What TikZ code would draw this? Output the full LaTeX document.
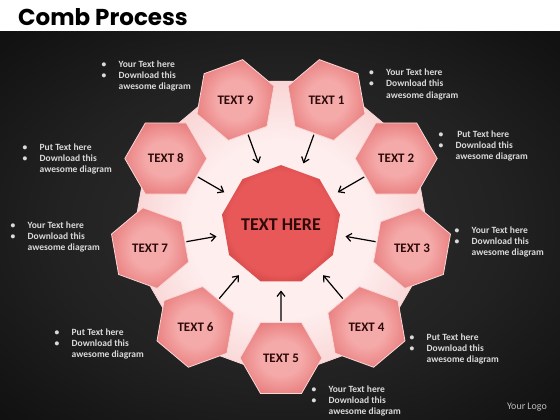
\documentclass[tikz,border=0pt]{standalone}
\usepackage{fontspec}
\setmainfont{Carlito}
\newfontfamily\titlefont{Poppins}
\usetikzlibrary{shapes.geometric,arrows.meta,calc}

\definecolor{stagein}{RGB}{48,48,48}
\definecolor{plateedge}{RGB}{250,215,215}
\definecolor{platein}{RGB}{254,238,238}
\definecolor{plateout}{RGB}{243,180,180}
\definecolor{cellin}{RGB}{245,170,170}
\definecolor{cellout}{RGB}{226,100,100}
\definecolor{celledge}{RGB}{250,215,215}
\definecolor{hubin}{RGB}{232,88,88}
\definecolor{hubout}{RGB}{170,40,40}
\definecolor{labeltext}{RGB}{45,10,10}
\definecolor{blurbgray}{RGB}{218,218,218}
\definecolor{logogray}{RGB}{190,190,190}

\pgfdeclareradialshading{stage-shade}{\pgfpoint{0bp}{0bp}}{color(0bp)=(stagein); color(20bp)=(stagein!70!black); color(50bp)=(black)}
\pgfdeclareradialshading{plate-shade}{\pgfpoint{0bp}{0bp}}{color(0bp)=(platein); color(15bp)=(platein); color(38bp)=(plateout); color(50bp)=(plateout)}
\pgfdeclareradialshading{cell-shade}{\pgfpoint{0bp}{0bp}}{color(0bp)=(cellin); color(12bp)=(cellin); color(36bp)=(cellout); color(50bp)=(cellout)}
\pgfdeclareradialshading{hub-shade}{\pgfpoint{0bp}{0bp}}{color(0bp)=(hubin); color(22bp)=(hubin); color(37bp)=(hubout); color(50bp)=(hubout)}

\tikzset{
  title/.style={font=\titlefont\bfseries\fontsize{23}{26}\selectfont, text=black, inner sep=0pt},
  backdrop/.style={regular polygon, regular polygon sides=9, shape border rotate=20,
    minimum size=306pt, inner sep=0pt, shading=plate-shade, draw=plateedge, line width=0.8pt},
  hub-shape/.style={regular polygon, regular polygon sides=9, minimum size=114pt,
    inner sep=0pt, shading=hub-shade, text=labeltext,
    font=\fontsize{18}{20}\selectfont\bfseries},
  cell/.style={regular polygon, regular polygon sides=6, minimum size=82pt,
    inner sep=0pt, shading=cell-shade, draw=celledge, line width=0.8pt, text=labeltext,
    font=\fontsize{13}{15}\selectfont\bfseries},
  arrow/.style={-{Straight Barb[length=5pt,width=8pt]}, line width=1.2pt, black,
    shorten <=1pt, shorten >=9pt},
  blurb-text/.style={text=blurbgray, inner sep=0pt, anchor=base west,
    font=\fontsize{9.5}{11.3}\selectfont\bfseries},
  logo/.style={text=logogray, inner sep=0pt, font=\fontsize{10}{12}\selectfont}
}
\newcommand{\blurb}[1]{%
  \begin{tabular}[t]{@{}l@{}l@{}}
    \makebox[17pt][l]{\textbullet} & #1\\
    \makebox[17pt][l]{\textbullet} & Download this\\
     & awesome diagram
  \end{tabular}}

\begin{document}
\begin{tikzpicture}[x=1pt,y=1pt]
  \useasboundingbox (0,0) rectangle (560,-420);

  % header and dark stage
  \fill[white] (0,0) rectangle (560,-32);
  \shade[shading=stage-shade] (0,-32) rectangle (560,-420);
  \node[title, anchor=base west] (title) at (18,-26) {Comb Process};

  % pink plate, hub in the middle
  \node[backdrop] (plate) at (281,-225) {};
  \node[hub-shape] (hub) at (281,-225) {TEXT HERE};

  % nine cells round the hub, each pointing in
  \foreach \i in {1,...,9}{
    \pgfmathsetmacro\ang{70-40*(\i-1)}
    \pgfmathsetmacro\rot{\ang+30}
    \node[cell, shape border rotate=\rot] (h\i) at ($(hub.center)+(\ang:133)$) {TEXT \i};
    \draw[arrow] (h\i) -- (hub);
  }

  % side notes
  \node[blurb-text] (n1) at (369,-75.5) {\blurb{Your Text here}};
  \node[blurb-text] (n2) at (438.5,-137) {\blurb{\,Put Text here}};
  \node[blurb-text] (n3) at (454.5,-233) {\blurb{Your Text here}};
  \node[blurb-text] (n4) at (409.5,-340) {\blurb{Put Text here}};
  \node[blurb-text] (n5) at (311.5,-392) {\blurb{Your Text here}};
  \node[blurb-text] (n6) at (54.5,-335) {\blurb{Put Text here}};
  \node[blurb-text] (n7) at (10.5,-228) {\blurb{Your Text here}};
  \node[blurb-text] (n8) at (22.5,-150) {\blurb{Put Text here}};
  \node[blurb-text] (n9) at (101.5,-67) {\blurb{Your Text here}};

  \node[logo] (logo) at (527,-407) {Your Logo};
\end{tikzpicture}
\end{document}
